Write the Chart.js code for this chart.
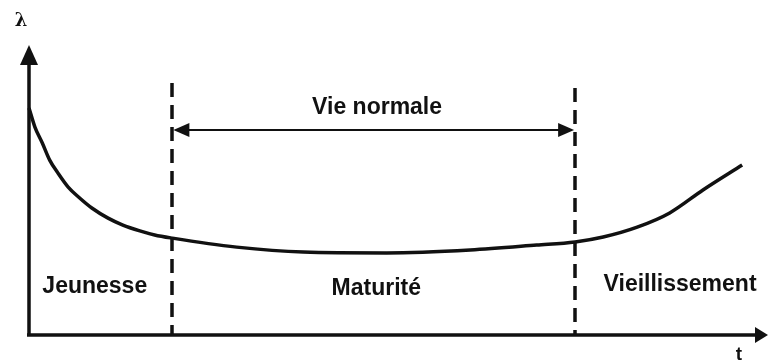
<!DOCTYPE html>
<html>
<head>
<meta charset="utf-8">
<script src="https://cdn.jsdelivr.net/npm/chart.js@4"></script>
<style>
	html, body { margin: 0; padding: 0; background: #fff; }
	canvas { display: block; }
</style>
</head>
<body>
<canvas id="chart" width="769" height="362"></canvas>
<script>
// bathtub curve (t and lambda on 0..100 scales)
const times = [0, 0.8, 1.8, 2.8, 3.9, 5.3, 6.7, 8.5, 10.7, 12.7, 15, 17, 19.4, 28.1, 37.1, 48.4, 59.7, 68.7, 73.9, 77.7, 82.3, 86.7, 91.2, 96.5]
const rates = [78.3, 71.7, 66.2, 60.3, 55.9, 51, 47.6, 43.8, 40.3, 37.9, 35.9, 34.5, 33.4, 30.3, 28.6, 28.3, 29.3, 31, 32.1, 33.8, 37.2, 42.1, 50, 58.6]

const phaseBounds = [19.4, 73.9]
const boundTops = [86.9, 85.2]
const normalLifeLevel = 70.7

const phaseLabels = ['Jeunesse', 'Maturité', 'Vieillissement']
const phaseLabelX = [8.9, 47, 88.1]
const phaseLabelY = [16.6, 15.9, 17.2]
const normalLifeLabel = 'Vie normale'
const normalLifeLabelPos = [47.1, 78.3]
const axisTitles = ['t', 'λ']

const ink = '#111'
const labelFont = 'bold 23px "Liberation Sans", Arial, sans-serif'

const arrowHead = (ctx, x, y, dir, len, half) => {
	// dir: 'up' | 'right' | 'left'
	ctx.beginPath()
	if (dir === 'up') {
		ctx.moveTo(x, y)
		ctx.lineTo(x - half, y + len)
		ctx.lineTo(x + half, y + len)
	} else if (dir === 'right') {
		ctx.moveTo(x, y)
		ctx.lineTo(x - len, y - half)
		ctx.lineTo(x - len, y + half)
	} else {
		ctx.moveTo(x, y)
		ctx.lineTo(x + len, y - half)
		ctx.lineTo(x + len, y + half)
	}
	ctx.closePath()
	ctx.fill()
}

const diagramPlugin = {
	id: 'diagram',
	afterDatasetsDraw: (chart) => {
		const { ctx, chartArea, scales } = chart
		const xs = scales.x
		const ys = scales.y
		ctx.save()
		ctx.strokeStyle = ink
		ctx.fillStyle = ink

		// axes with arrows
		ctx.lineWidth = 3.5
		ctx.beginPath()
		ctx.moveTo(chartArea.left, chartArea.bottom)
		ctx.lineTo(chartArea.left, chartArea.top + 12)
		ctx.moveTo(chartArea.left - 2, chartArea.bottom)
		ctx.lineTo(chartArea.right - 10, chartArea.bottom)
		ctx.stroke()
		arrowHead(ctx, chartArea.left, chartArea.top, 'up', 20, 9)
		arrowHead(ctx, chartArea.right, chartArea.bottom, 'right', 13, 8)

		// dashed phase boundaries
		ctx.lineWidth = 3.5
		ctx.setLineDash([14, 8])
		phaseBounds.forEach((t, i) => {
			const px = Math.round(xs.getPixelForValue(t))
			ctx.beginPath()
			ctx.moveTo(px, ys.getPixelForValue(boundTops[i]))
			ctx.lineTo(px, chartArea.bottom)
			ctx.stroke()
		})
		ctx.setLineDash([])

		// normal life double arrow
		const ay = ys.getPixelForValue(normalLifeLevel)
		const ax1 = xs.getPixelForValue(phaseBounds[0])
		const ax2 = xs.getPixelForValue(phaseBounds[1])
		ctx.lineWidth = 2
		ctx.beginPath()
		ctx.moveTo(ax1 + 10, ay)
		ctx.lineTo(ax2 - 10, ay)
		ctx.stroke()
		arrowHead(ctx, ax1 + 1, ay, 'left', 16, 7)
		arrowHead(ctx, ax2 - 1, ay, 'right', 16, 7)

		// texts
		ctx.font = labelFont
		ctx.textAlign = 'center'
		ctx.textBaseline = 'middle'
		phaseLabels.forEach((label, i) => {
			ctx.fillText(label, xs.getPixelForValue(phaseLabelX[i]), ys.getPixelForValue(phaseLabelY[i]))
		})
		ctx.fillText(normalLifeLabel, xs.getPixelForValue(normalLifeLabelPos[0]), ys.getPixelForValue(normalLifeLabelPos[1]))

		ctx.font = 'bold 19px "Liberation Sans", Arial, sans-serif'
		ctx.fillText(axisTitles[0], chartArea.right - 29, chartArea.bottom + 20)
		ctx.font = 'bold 18px "DejaVu Serif", serif'
		ctx.fillText(axisTitles[1], chartArea.left - 8, chartArea.top - 24)
		ctx.restore()
	},
}

const context = document.getElementById('chart').getContext('2d')
const chart = new Chart(context, {
	type: 'line',
	data: {
		datasets: [
			{
				data: times.map((t, i) => ({ x: t, y: rates[i] })),
				borderColor: ink,
				borderWidth: 3.5,
				pointRadius: 0,
				cubicInterpolationMode: 'monotone',
				fill: false,
				clip: false,
			},
		],
	},
	options: {
		responsive: false,
		animation: false,
		layout: {
			padding: { left: 29, right: 1, top: 45, bottom: 27 },
		},
		scales: {
			x: { type: 'linear', min: 0, max: 100, display: false },
			y: { min: 0, max: 100, display: false },
		},
		plugins: {
			legend: { display: false },
			tooltip: { enabled: false },
		},
	},
	plugins: [diagramPlugin],
})
</script>
</body>
</html>
